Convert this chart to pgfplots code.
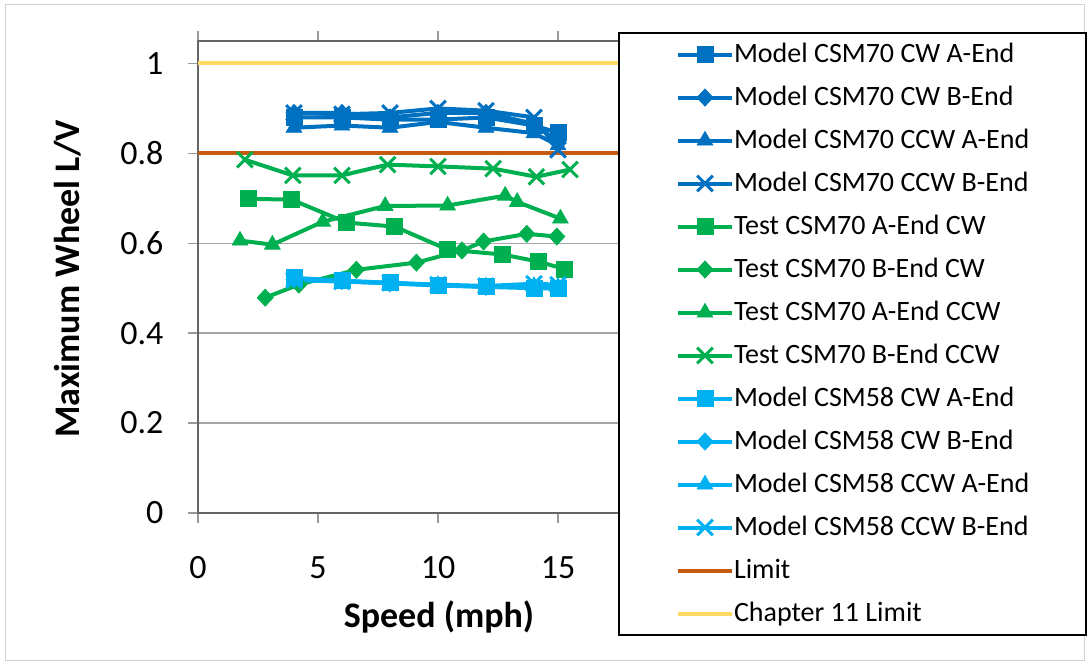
\documentclass[border=0pt]{standalone}
\usepackage{fontspec}
\setmainfont{Carlito}
\usepackage{pgfplots}
\pgfplotsset{compat=1.18}
\definecolor{MSeventy}{HTML}{0070C0}
\definecolor{TSeventy}{HTML}{00B050}
\definecolor{MFiftyEight}{HTML}{00B0F0}
\definecolor{LimitCol}{HTML}{C55A11}
\definecolor{ChapCol}{HTML}{FFD966}

\pgfplotsset{
  ser/.style={color=#1, line width=4pt, mark options={solid, line width=0.8pt}},
  msq/.style={mark=square*, mark size=8pt},
  mdi/.style={mark=diamond*, mark size=8.5pt, mark options={solid, line width=0.8pt, xscale=1.25}},
  mtr/.style={mark=triangle*, mark size=9pt},
  mx/.style={mark=x, mark size=11pt, mark options={solid, line width=3pt}},
}

\begin{document}
\begin{tikzpicture}[x=1pt,y=1pt]
\useasboundingbox (0,0) rectangle (1089,666);
\draw[draw=black!18, line width=1pt] (5,5) rectangle (1084,661);
\begin{axis}[
  at={(198pt,153pt)}, anchor=south west,
  scale only axis, width=480pt, height=472pt,
  xmin=0, xmax=20, ymin=0, ymax=1.05,
  xtick={0,5,10,15}, ytick={0,0.2,0.4,0.6,0.8,1},
  /pgf/number format/assume math mode=true,
  tick label style={font=\fontsize{34}{40}\selectfont},
  xticklabel style={yshift=-30pt},
  yticklabel style={xshift=-21pt},
  tick align=outside, major tick length=10pt,
  tick style={draw=black!40, line width=1.5pt},
  axis line style={draw=black!60, line width=1.5pt},
  ymajorgrids, grid style={draw=black!35, line width=1.5pt},
  xlabel={\bfseries Speed (mph)},
  ylabel={\bfseries Maximum Wheel L/V},
  label style={font=\fontsize{36}{42}\selectfont},
  xlabel style={at={(axis description cs:0.502,-0.220)}, anchor=center},
  ylabel style={at={(axis description cs:-0.271,0.496)}, anchor=center},
  legend image code/.code={\draw[mark repeat=2,mark phase=2,#1] plot coordinates {(0pt,0pt) (27pt,0pt) (54pt,0pt)};},
  legend cell align=left,
  legend style={at={(0.875,1.019)}, anchor=north west, draw=black, line width=2pt,
    fill=white, inner xsep=57pt, inner ysep=7.5pt, row sep=15pt,
    font=\fontsize{28}{32}\selectfont,
    nodes={inner sep=0pt, text height=22pt, text depth=6pt},
    /tikz/every odd column/.append style={column sep=0pt}},
]
% Model CSM70
\addplot[ser=MSeventy, msq] coordinates {(4,0.880) (6,0.880) (8,0.875) (10,0.875) (12,0.880) (14,0.862) (15,0.846)};
\addlegendentry{Model CSM70 CW A-End}
\addplot[ser=MSeventy, mdi] coordinates {(4,0.890) (6,0.890) (8,0.880) (10,0.890) (12,0.890) (14,0.866) (15,0.826)};
\addlegendentry{Model CSM70 CW B-End}
\addplot[ser=MSeventy, mtr] coordinates {(4,0.857) (6,0.862) (8,0.857) (10,0.870) (12,0.857) (14,0.845) (15,0.818)};
\addlegendentry{Model CSM70 CCW A-End}
\addplot[ser=MSeventy, mx] coordinates {(4,0.890) (6,0.887) (8,0.890) (10,0.900) (12,0.895) (14,0.880) (15,0.808)};
\addlegendentry{Model CSM70 CCW B-End}
% Test CSM70
\addplot[ser=TSeventy, msq] coordinates {(2.1,0.699) (3.9,0.697) (6.2,0.646) (8.2,0.637) (10.4,0.586) (12.7,0.575) (14.2,0.559) (15.25,0.543)};
\addlegendentry{Test CSM70 A-End CW}
\addplot[ser=TSeventy, mdi] coordinates {(2.8,0.479) (4.2,0.508) (6.6,0.541) (9.1,0.557) (11.0,0.584) (11.9,0.604) (13.7,0.621) (14.95,0.615)};
\addlegendentry{Test CSM70 B-End CW}
\addplot[ser=TSeventy, mtr] coordinates {(1.75,0.606) (3.1,0.597) (5.2,0.648) (7.8,0.683) (10.4,0.684) (12.8,0.706) (13.3,0.692) (15.1,0.655)};
\addlegendentry{Test CSM70 A-End CCW}
\addplot[ser=TSeventy, mx] coordinates {(1.95,0.786) (3.95,0.751) (6.0,0.751) (7.9,0.775) (10.0,0.771) (12.3,0.766) (14.1,0.748) (15.5,0.764)};
\addlegendentry{Test CSM70 B-End CCW}
% Model CSM58
\addplot[ser=MFiftyEight, msq] coordinates {(4,0.523) (6,0.517) (8,0.512) (10,0.507) (12,0.503) (14,0.500) (15,0.499)};
\addlegendentry{Model CSM58 CW A-End}
\addplot[ser=MFiftyEight, mdi] coordinates {(4,0.520) (6,0.516) (8,0.511) (10,0.506) (12,0.503) (14,0.503) (15,0.501)};
\addlegendentry{Model CSM58 CW B-End}
\addplot[ser=MFiftyEight, mtr] coordinates {(4,0.519) (6,0.515) (8,0.511) (10,0.507) (12,0.504) (14,0.505) (15,0.503)};
\addlegendentry{Model CSM58 CCW A-End}
\addplot[ser=MFiftyEight, mx] coordinates {(4,0.518) (6,0.515) (8,0.512) (10,0.508) (12,0.505) (14,0.510) (15,0.508)};
\addlegendentry{Model CSM58 CCW B-End}
% limits
\addplot[LimitCol, line width=4pt, no marks] coordinates {(0,0.8) (20,0.8)};
\addlegendentry{Limit}
\addplot[ChapCol, line width=4pt, no marks] coordinates {(0,1) (20,1)};
\addlegendentry{Chapter 11 Limit}
\end{axis}
\end{tikzpicture}
\end{document}
